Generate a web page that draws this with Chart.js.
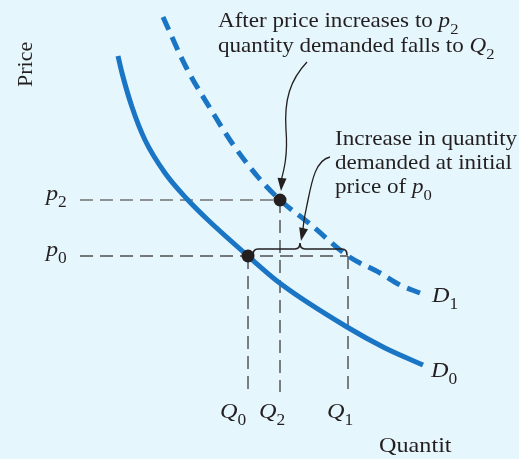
<!DOCTYPE html>
<html>
<head>
<meta charset="utf-8">
<script src="https://cdn.jsdelivr.net/npm/chart.js"></script>
<style>
  html, body { margin: 0; padding: 0; background: #e6f6fd; }
  canvas { display: block; }
</style>
</head>
<body>
<canvas id="demandChart" width="519" height="459"></canvas>
<script>
// readings along the original (D0) and shifted (D1) demand curves
let d0Quantity = [9.5, 10.5, 13, 16.25, 21.25, 26.75, 32, 42, 50.25, 66.75, 76.25, 85.75];
let d0Price = [84, 79.75, 71.25, 63, 54.75, 48.25, 43, 34, 27, 16.25, 11, 6.75];
let d1Quantity = [20.75, 26.5, 33.25, 38, 44.5, 50, 57.5, 67, 75, 80, 85];
let d1Price = [93.75, 81.25, 69.75, 62.25, 53.75, 48, 42, 34, 29.75, 26.75, 24.75];

// marked quantities and prices
let quantities = { q0: 42, q2: 50, q1: 67 };
let prices = { p0: 34, p2: 48 };

let blue = '#1a75c4';
let ink = '#231f20';
let serif = '"Liberation Serif", "DejaVu Serif", serif';
let stretch = 1.1;

function toPoints(xs, ys) {
  return xs.map((x, i) => ({ x: x, y: ys[i] }));
}

function guide(points, color) {
  return {
    data: points,
    showLine: true,
    borderColor: color,
    borderWidth: 1.6,
    borderDash: [13, 7],
    pointRadius: 0,
    fill: false,
    order: 2
  };
}

function setFont(ctx, r, size) {
  let s = r.sub ? size * 0.72 : size;
  ctx.font = (r.italic ? 'italic ' : '') + s + 'px ' + serif;
}

function runsWidth(ctx, runs, size) {
  let w = 0;
  runs.forEach((r) => {
    setFont(ctx, r, size);
    w += ctx.measureText(r.t).width;
  });
  return w * stretch;
}

// draws text runs (italic / subscript pieces), slightly widened
function drawRuns(ctx, runs, x, y, size) {
  ctx.save();
  ctx.translate(x, y);
  ctx.scale(stretch, 1);
  let cx = 0;
  runs.forEach((r) => {
    setFont(ctx, r, size);
    ctx.fillText(r.t, cx, r.sub ? size * 0.33 : 0);
    cx += ctx.measureText(r.t).width;
  });
  ctx.restore();
}

function arrowHead(ctx, tx, ty, angle) {
  ctx.save();
  ctx.translate(tx, ty);
  ctx.rotate(angle);
  ctx.beginPath();
  ctx.moveTo(0, 0);
  ctx.lineTo(-13, -4.5);
  ctx.lineTo(-13, 4.5);
  ctx.closePath();
  ctx.fill();
  ctx.restore();
}

let annotations = {
  id: 'annotations',
  afterDraw(chart) {
    let ctx = chart.ctx;
    let xs = chart.scales.x;
    let ys = chart.scales.y;
    let xq0 = xs.getPixelForValue(quantities.q0);
    let xq1 = xs.getPixelForValue(quantities.q1);
    let xq2 = xs.getPixelForValue(quantities.q2);
    let yp0 = ys.getPixelForValue(prices.p0);
    let yp2 = ys.getPixelForValue(prices.p2);
    let yBase = ys.getPixelForValue(0);

    ctx.save();
    ctx.fillStyle = ink;
    ctx.strokeStyle = ink;
    ctx.textBaseline = 'alphabetic';

    // axis titles
    ctx.save();
    ctx.translate(32, 87);
    ctx.rotate(-Math.PI / 2);
    drawRuns(ctx, [{ t: 'Price' }], 0, 0, 20);
    ctx.restore();
    drawRuns(ctx, [{ t: 'Quantit' }], 379, 452, 22);

    // price labels
    drawRuns(ctx, [{ t: 'p', italic: true }, { t: '2', sub: true }], 46, yp2, 22);
    drawRuns(ctx, [{ t: 'p', italic: true }, { t: '0', sub: true }], 46, yp0, 22);

    // quantity labels
    [[xq0, '0', 28], [xq2, '2', 21], [xq1, '1', 21]].forEach(([qx, n, off]) => {
      drawRuns(ctx, [{ t: 'Q', italic: true }, { t: n, sub: true }], qx - off, yBase + 26, 22);
    });

    // curve labels
    drawRuns(ctx, [{ t: 'D', italic: true }, { t: '1', sub: true }], 432, 302, 22);
    drawRuns(ctx, [{ t: 'D', italic: true }, { t: '0', sub: true }], 431, 377, 22);

    // explanatory notes
    drawRuns(ctx, [{ t: 'After price increases to ' }, { t: 'p', italic: true }, { t: '2', sub: true }], 218, 27, 21);
    drawRuns(ctx, [{ t: 'quantity demanded falls to ' }, { t: 'Q', italic: true }, { t: '2', sub: true }], 218, 52, 21);
    drawRuns(ctx, [{ t: 'Increase in quantity' }], 335, 145, 21);
    drawRuns(ctx, [{ t: 'demanded at initial' }], 335, 169, 21);
    drawRuns(ctx, [{ t: 'price of ' }, { t: 'p', italic: true }, { t: '0', sub: true }], 335, 193, 21);

    // brace spanning Q0..Q1 just above p0
    let bx1 = xq0 + 5;
    let bx2 = xq1 - 1;
    let by = yp0 - 7;
    let mid = (bx1 + bx2) / 2;
    ctx.lineWidth = 1.6;
    ctx.beginPath();
    ctx.moveTo(bx1, yp0 - 1);
    ctx.quadraticCurveTo(bx1, by, bx1 + 5, by);
    ctx.lineTo(mid - 5, by);
    ctx.quadraticCurveTo(mid, by, mid, by - 6);
    ctx.quadraticCurveTo(mid, by, mid + 5, by);
    ctx.lineTo(bx2 - 5, by);
    ctx.quadraticCurveTo(bx2, by, bx2, yp0 - 1);
    ctx.stroke();

    // arrow to the point (Q2, p2)
    let t1x = xq2 + 1;
    let t1y = yp2 - 9;
    ctx.lineWidth = 1.3;
    ctx.beginPath();
    ctx.moveTo(307, 62);
    ctx.bezierCurveTo(290, 80, 284, 100, 286, 130);
    ctx.bezierCurveTo(288, 155, 284, 170, t1x, t1y - 10);
    ctx.stroke();
    arrowHead(ctx, t1x, t1y, Math.PI / 2 + 0.08);

    // arrow to the brace tip
    let t2x = mid + 1;
    let t2y = by - 8;
    ctx.beginPath();
    ctx.moveTo(330, 157);
    ctx.bezierCurveTo(316, 160, 312, 180, 308, 200);
    ctx.bezierCurveTo(305, 215, 303, 222, t2x + 2, t2y - 10);
    ctx.stroke();
    arrowHead(ctx, t2x, t2y, Math.PI / 2 + 0.2);

    ctx.restore();
  }
};

let chart = new Chart(document.getElementById('demandChart').getContext('2d'), {
  type: 'scatter',
  data: {
    datasets: [
      guide([{ x: 0, y: prices.p2 }, { x: quantities.q2, y: prices.p2 }], '#707070'),
      guide([{ x: 0, y: prices.p0 }, { x: quantities.q1, y: prices.p0 }], '#4f4f4f'),
      guide([{ x: quantities.q0, y: prices.p0 }, { x: quantities.q0, y: 0 }], '#606060'),
      guide([{ x: quantities.q2, y: prices.p2 }, { x: quantities.q2, y: 0 }], '#606060'),
      guide([{ x: quantities.q1, y: prices.p0 }, { x: quantities.q1, y: 0 }], '#606060'),
      {
        data: toPoints(d0Quantity, d0Price),
        showLine: true,
        borderColor: blue,
        borderWidth: 5,
        cubicInterpolationMode: 'monotone',
        pointRadius: 0,
        order: 1
      },
      {
        data: toPoints(d1Quantity, d1Price),
        showLine: true,
        borderColor: blue,
        borderWidth: 5,
        borderDash: [14, 8],
        cubicInterpolationMode: 'monotone',
        pointRadius: 0,
        order: 1
      },
      {
        data: [{ x: quantities.q0, y: prices.p0 }, { x: quantities.q2, y: prices.p2 }],
        showLine: false,
        pointRadius: 6.5,
        pointBackgroundColor: ink,
        pointBorderColor: ink,
        pointBorderWidth: 0,
        order: 0
      }
    ]
  },
  options: {
    responsive: false,
    animation: false,
    layout: {
      padding: { left: 80, right: 39, top: 12, bottom: 67 }
    },
    scales: {
      x: { type: 'linear', min: 0, max: 100, display: false },
      y: { type: 'linear', min: 0, max: 95, display: false }
    },
    plugins: {
      legend: { display: false },
      tooltip: { enabled: false }
    }
  },
  plugins: [annotations]
});
</script>
</body>
</html>
